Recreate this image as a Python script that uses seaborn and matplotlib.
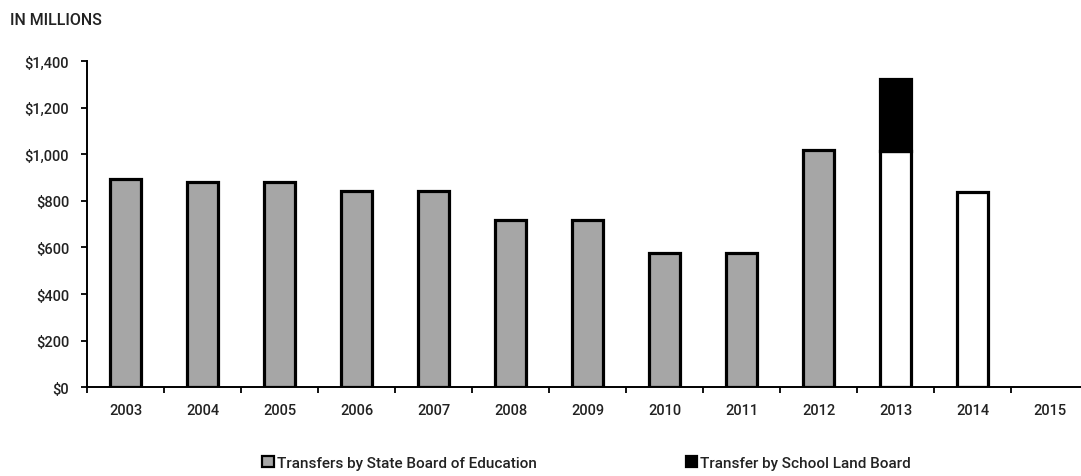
import numpy as np
import pandas as pd
import matplotlib
matplotlib.use("Agg")
import matplotlib.pyplot as plt
from matplotlib.patches import Patch
from matplotlib.ticker import FixedLocator, FuncFormatter
import seaborn as sns

# Permanent School Fund distributions, in millions of dollars
years = ["2003", "2004", "2005", "2006", "2007", "2008", "2009",
         "2010", "2011", "2012", "2013", "2014", "2015"]
sboe_transfers = [895, 880, 880, 842, 842, 717, 717, 577, 577, 1019, 1015, 838, np.nan]
slb_transfers = [np.nan] * 10 + [306] + [np.nan, np.nan]
# actual distributions in grey, appropriated years left white
bar_fill = ["#a6a6a6"] * 10 + ["#ffffff", "#ffffff", "#ffffff"]

df = pd.DataFrame({"year": years, "sboe": sboe_transfers, "slb": slb_transfers})

sns.set_theme(style="ticks")
plt.rcParams["font.family"] = ["Roboto", "DejaVu Sans"]
plt.rcParams["font.weight"] = "medium"

TXT = "#222222"
LBL = 10.5

fig = plt.figure(figsize=(10.81, 4.77), dpi=100)
ax = fig.add_axes([0.0805, 0.186, 0.926, 0.684])

sns.barplot(data=df, x="year", y="sboe", hue="year", order=years,
            palette=bar_fill, legend=False, width=0.41, saturation=1,
            edgecolor="black", linewidth=2.3, ax=ax)

top = df.dropna(subset=["slb"])
sns.barplot(data=top, x="year", y="slb", order=years, color="black",
            width=0.41, bottom=top["sboe"].values, edgecolor="black",
            linewidth=2.3, saturation=1, ax=ax)

ax.set_ylim(0, 1400)
ax.set_xlim(-0.5, len(years) - 0.5)
ax.yaxis.set_major_locator(FixedLocator(np.arange(0, 1401, 200)))
ax.yaxis.set_major_formatter(FuncFormatter(lambda v, p: f"${v:,.0f}"))
ax.set_xlabel("")
ax.set_ylabel("")

# category boundaries carry the x ticks; labels sit under the bars
ax.set_xticks(np.arange(len(years)))
ax.set_xticklabels(years)
ax.tick_params(axis="x", which="major", length=0, pad=11.5, labelsize=LBL, labelcolor=TXT)
ax.set_xticks(np.arange(-0.5, len(years), 1.0), minor=True)
ax.tick_params(axis="x", which="minor", length=4.3, width=1.3, color="black", direction="out")
ax.tick_params(axis="y", length=4.3, width=1.3, color="black", pad=8.5,
               labelsize=LBL, labelcolor=TXT)

sns.despine(ax=ax, top=True, right=True)
for side in ("left", "bottom"):
    ax.spines[side].set_linewidth(1.4)
    ax.spines[side].set_color("black")

fig.text(0.009, 0.957, "IN MILLIONS", fontsize=11.5, color=TXT, va="center")

handles = [
    Patch(facecolor="#a6a6a6", edgecolor="black", linewidth=1.6,
          label="Transfers by State Board of Education"),
    Patch(facecolor="black", edgecolor="black", linewidth=1.6,
          label="Transfer by School Land Board"),
]
fig.legend(handles=handles, loc="center left", bbox_to_anchor=(262 / 1081, 0.028),
           ncol=2, frameon=False, fontsize=11, handlelength=0.78, handleheight=0.78,
           handletextpad=0.18, columnspacing=9.75, labelcolor=TXT,
           borderpad=0, borderaxespad=0)

fig.savefig("out.png", dpi=100)
